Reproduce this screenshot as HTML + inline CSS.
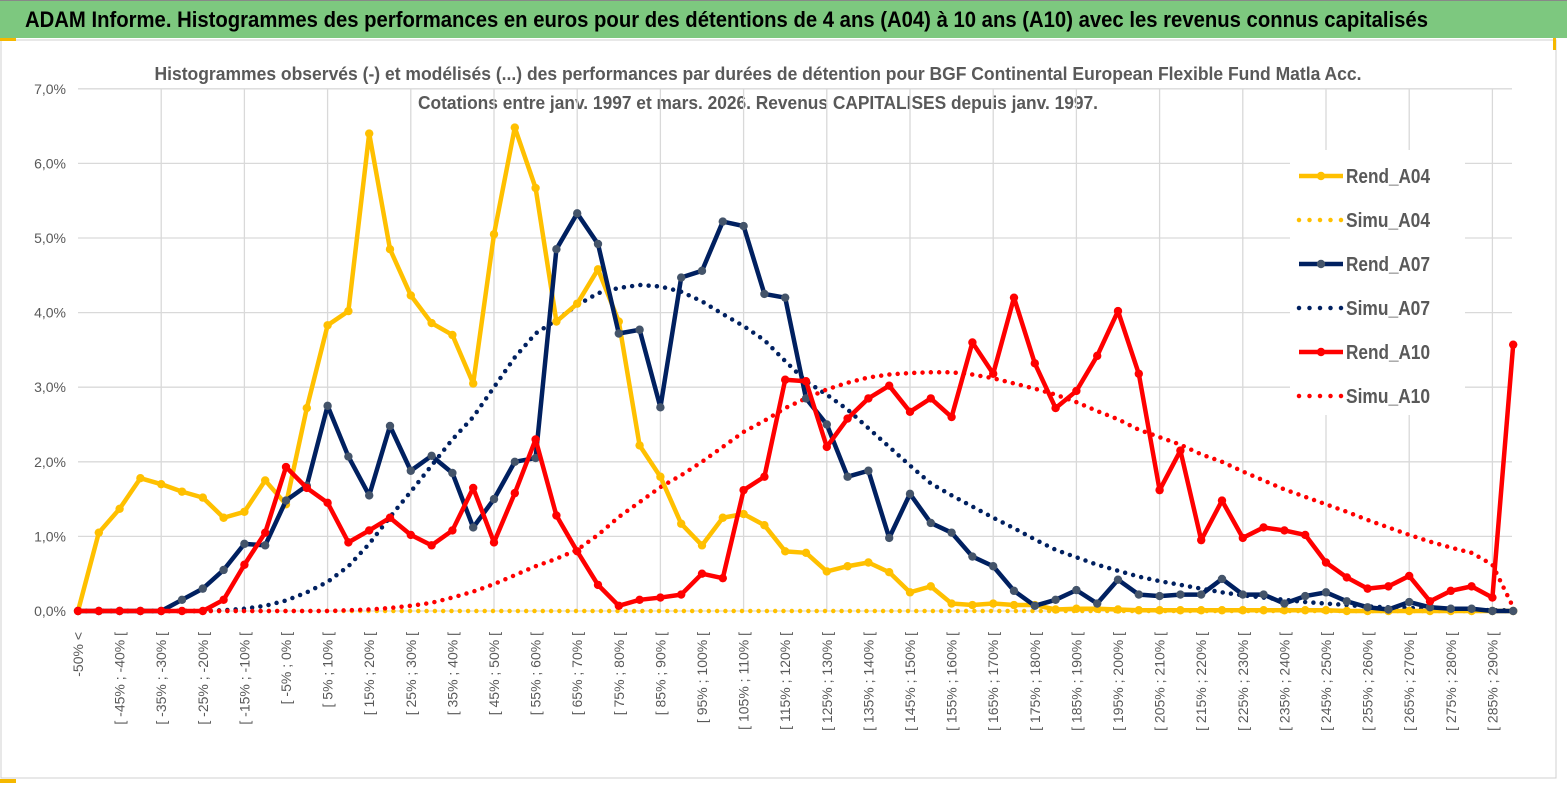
<!DOCTYPE html>
<html><head><meta charset="utf-8"><style>
html,body{margin:0;padding:0;background:#fff;}
svg{display:block;font-family:"Liberation Sans",sans-serif;}
</style></head><body>
<svg id="chart" width="1567" height="789" viewBox="0 0 1567 789" xmlns="http://www.w3.org/2000/svg">
<rect x="0" y="0" width="1567" height="789" fill="#fff"/>
<rect x="0" y="0" width="1567" height="38" fill="#7dc87f"/>
<line x1="0" y1="0.5" x2="1567" y2="0.5" stroke="#888"/>
<text x="25" y="27" font-size="22" font-weight="bold" fill="#000" textLength="1403" lengthAdjust="spacingAndGlyphs">ADAM Informe. Histogrammes des performances en euros pour des détentions de 4 ans (A04) à 10 ans (A10) avec les revenus connus capitalisés</text>
<rect x="1" y="40" width="1555" height="738" fill="none" stroke="#d0d0d0"/>
<rect x="0" y="38" width="16" height="3" fill="#f5b800"/>
<rect x="0" y="779" width="16" height="4" fill="#f5b800"/>
<rect x="1553" y="38" width="3" height="12" fill="#f5b800"/>
<text x="758" y="80" text-anchor="middle" font-size="18" font-weight="bold" fill="#595959" textLength="1207" lengthAdjust="spacingAndGlyphs">Histogrammes observés (-) et modélisés (...) des performances par durées de détention pour BGF Continental European Flexible Fund Matla Acc.</text>
<text x="758" y="109" text-anchor="middle" font-size="18" font-weight="bold" fill="#595959" textLength="680" lengthAdjust="spacingAndGlyphs">Cotations entre janv. 1997 et mars. 2026. Revenus CAPITALISES depuis janv. 1997.</text>
<g id="grid"></g>
<g id="xlabels"></g>
<g id="ylabels"></g>
<g id="series"></g>
<g id="legend"></g>
</svg>
<script>
const categories = (function(){const a=["-50% <"];for(let v=-50;v<295;v+=5){a.push("[ "+v+"% ; "+(v+5)+"% [");}return a;})();
const yTicks = [0,1,2,3,4,5,6,7];
const yTickLabels = ["0,0%","1,0%","2,0%","3,0%","4,0%","5,0%","6,0%","7,0%"];
const rendA04 = [0,1.05,1.37,1.78,1.70,1.60,1.52,1.25,1.33,1.75,1.43,2.72,3.83,4.02,6.40,4.85,4.23,3.86,3.70,3.05,5.05,6.48,5.67,3.88,4.12,4.58,3.88,2.22,1.80,1.17,0.88,1.25,1.30,1.15,0.80,0.78,0.53,0.60,0.65,0.52,0.25,0.33,0.10,0.08,0.10,0.08,0.08,0.02,0.03,0.03,0.02,0.01,0.01,0.01,0.01,0.01,0.01,0.01,0.01,0.01,0.01,0,0,0,0,0,0,0,0,0];
const simuA04 = [0,0,0,0,0,0,0,0,0,0,0,0,0,0,0,0,0,0,0,0,0,0,0,0,0,0,0,0,0,0,0,0,0,0,0,0,0,0,0,0,0,0,0,0,0,0,0,0,0,0,0,0,0,0,0,0,0,0,0,0,0,0,0,0,0,0,0,0,0,0];
const rendA07 = [0,0,0,0,0,0.15,0.30,0.55,0.90,0.88,1.48,1.68,2.75,2.07,1.55,2.48,1.88,2.08,1.85,1.12,1.50,2.00,2.05,4.85,5.33,4.92,3.72,3.77,2.73,4.47,4.56,5.22,5.16,4.25,4.20,2.85,2.50,1.80,1.88,0.98,1.57,1.18,1.05,0.73,0.60,0.27,0.07,0.15,0.28,0.10,0.42,0.22,0.20,0.22,0.22,0.43,0.22,0.22,0.10,0.20,0.25,0.13,0.05,0.02,0.12,0.05,0.03,0.03,0,0];
const simuA07 = [0,0,0,0,0,0,0,0.01,0.03,0.07,0.14,0.25,0.39,0.60,0.90,1.26,1.60,1.95,2.30,2.60,3.00,3.40,3.72,3.90,4.10,4.26,4.33,4.37,4.35,4.28,4.15,3.98,3.82,3.63,3.35,3.08,2.90,2.70,2.45,2.20,1.95,1.71,1.55,1.40,1.25,1.11,0.96,0.82,0.72,0.62,0.54,0.46,0.40,0.35,0.30,0.25,0.21,0.18,0.15,0.12,0.10,0.08,0.06,0.05,0.04,0.03,0.02,0.02,0.01,0.01];
const rendA10 = [0,0,0,0,0,0,0,0.15,0.62,1.05,1.93,1.65,1.45,0.92,1.08,1.25,1.02,0.88,1.08,1.65,0.92,1.58,2.30,1.28,0.80,0.35,0.07,0.15,0.18,0.22,0.50,0.44,1.62,1.80,3.10,3.08,2.20,2.58,2.85,3.02,2.67,2.85,2.60,3.60,3.18,4.20,3.32,2.72,2.95,3.42,4.02,3.18,1.62,2.15,0.95,1.48,0.98,1.12,1.08,1.02,0.65,0.45,0.30,0.33,0.47,0.13,0.27,0.33,0.18,3.57];
const simuA10 = [0,0,0,0,0,0,0,0,0,0,0,0,0,0.01,0.02,0.04,0.07,0.11,0.18,0.26,0.36,0.48,0.60,0.70,0.82,1.02,1.26,1.46,1.66,1.82,2.00,2.20,2.40,2.55,2.72,2.85,2.97,3.06,3.13,3.17,3.19,3.20,3.20,3.17,3.12,3.05,2.98,2.90,2.80,2.68,2.57,2.43,2.33,2.23,2.10,2.00,1.87,1.75,1.63,1.53,1.43,1.33,1.22,1.12,1.02,0.93,0.85,0.78,0.62,0.05];
const seriesNames = ["Rend_A04","Simu_A04","Rend_A07","Simu_A07","Rend_A10","Simu_A10"];

const NS="http://www.w3.org/2000/svg";
const X0=78, DX=20.8, Y0=611, YPX=74.6;
function xs(i){return X0+i*DX;}
function ys(v){return Y0-v*YPX;}
function mk(tag,attrs,parent){const e=document.createElementNS(NS,tag);for(const k in attrs)e.setAttribute(k,attrs[k]);parent.appendChild(e);return e;}

const grid=document.getElementById('grid');
yTicks.forEach((t,i)=>{
  const l=mk('line',{x1:X0,x2:1512,y1:ys(t),y2:ys(t),stroke:'#d9d9d9','stroke-width':1.3},grid);
  
  
  const tx=mk('text',{x:66,y:ys(t)+5,'text-anchor':'end','font-size':14,fill:'#595959'},document.getElementById('ylabels'));
  tx.textContent=yTickLabels[i];
  
  
});
for(let i=4;i<categories.length;i+=4){
  const l=mk('line',{x1:xs(i),x2:xs(i),y1:ys(7),y2:Y0,stroke:'#d9d9d9','stroke-width':1.3},grid);
  
  
}
const xl=document.getElementById('xlabels');
categories.forEach((c,i)=>{
  if(i%2!==0)return;
  const t=mk('text',{x:0,y:0,transform:`translate(${xs(i)+5},632) rotate(-90)`,'text-anchor':'end','font-size':14,fill:'#595959'},xl);
  t.textContent=c;
  
  
});

const sg=document.getElementById('series');
function drawLine(data,color,name){
  const g=mk('g',{},sg);
  
  
  mk('polyline',{points:data.map((v,i)=>xs(i)+','+ys(v)).join(' '),fill:'none',stroke:color,'stroke-width':4.5,'stroke-linejoin':'round'},g);
  data.forEach((v,i)=>{
    const c=mk('circle',{cx:xs(i),cy:ys(v),r:4.2,fill:color==='#002060'?'#44546a':color},g);
    
    
  });
}
function drawDots(data,color,name){
  const g=mk('g',{},sg);
  
  
  mk('polyline',{points:data.map((v,i)=>xs(i)+','+ys(v)).join(' '),fill:'none',stroke:color,'stroke-width':4.5,'stroke-linecap':'round','stroke-dasharray':'0 8.3'},g);
}
drawDots(simuA04,'#ffc000','simu-a04-line');
drawDots(simuA07,'#002060','simu-a07-line');
drawDots(simuA10,'#ff0000','simu-a10-line');
drawLine(rendA04,'#ffc000','rend-a04-line');
drawLine(rendA07,'#002060','rend-a07-line');
drawLine(rendA10,'#ff0000','rend-a10-line');

const lg=document.getElementById('legend');
mk('rect',{x:1290,y:150,width:175,height:265,fill:'#fff'},lg);
const lcol=['#ffc000','#ffc000','#002060','#002060','#ff0000','#ff0000'];
seriesNames.forEach((n,k)=>{
  const y=176+k*44;
  const g=mk('g',{},lg);
  
  
  if(k%2===0){
    mk('line',{x1:1299,x2:1343,y1:y,y2:y,stroke:lcol[k],'stroke-width':4.5},g);
    mk('circle',{cx:1321,cy:y,r:4.2,fill:lcol[k]==='#002060'?'#44546a':lcol[k]},g);
  } else {
    mk('line',{x1:1299,x2:1343,y1:y,y2:y,stroke:lcol[k],'stroke-width':4.5,'stroke-linecap':'round','stroke-dasharray':'0 10.5'},g);
  }
  const t=mk('text',{x:1346,y:y+7,'font-size':20,'font-weight':'bold',fill:'#595959',textLength:84,lengthAdjust:'spacingAndGlyphs'},g);
  t.textContent=n;
});
</script>
</body></html>
